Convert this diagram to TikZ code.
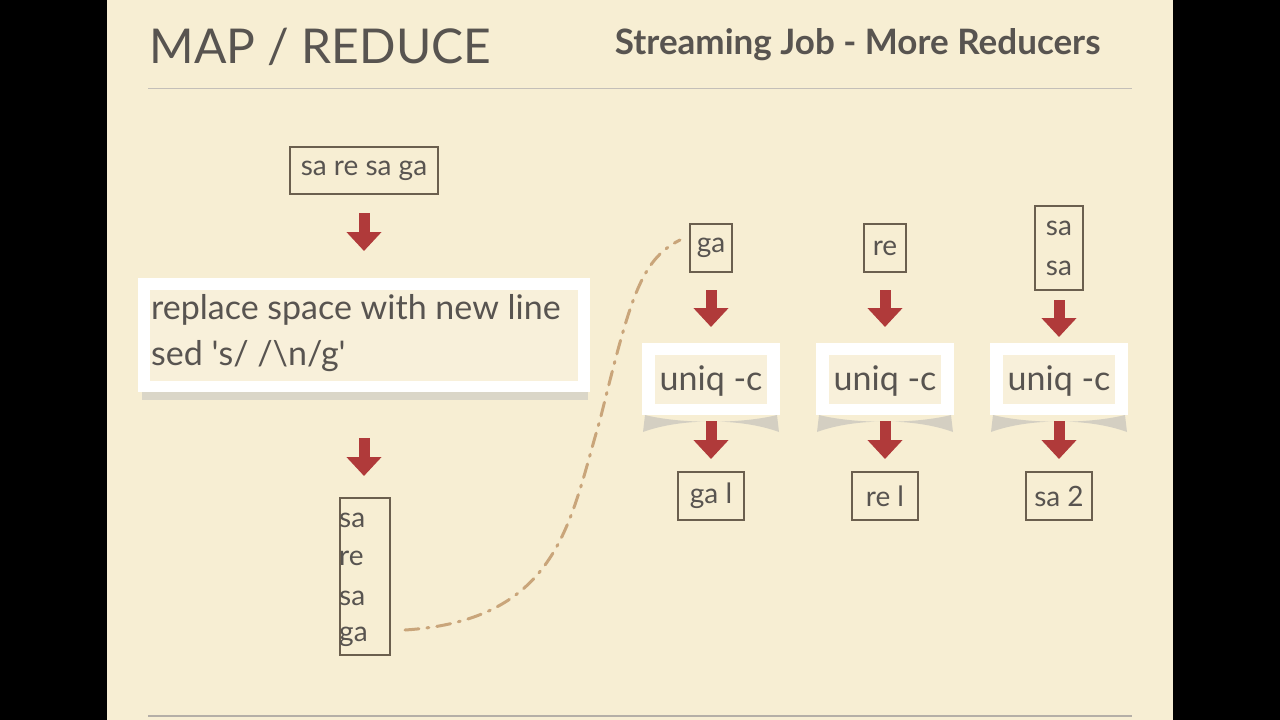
\documentclass[tikz,border=0pt]{standalone}
\usepackage{fontspec}
\setmainfont{Lato}
\usetikzlibrary{arrows.meta,positioning}
\definecolor{bg}{HTML}{F7EED3}
\definecolor{txt}{HTML}{585450}
\definecolor{bx}{HTML}{6B5F4E}
\definecolor{arr}{HTML}{B03A3A}
\definecolor{curve}{HTML}{C9A57A}
\tikzset{
 sbox/.style={draw=bx,line width=1.6pt,text=txt,font=\fontsize{28}{40}\selectfont,inner sep=1pt,align=left},
 redarr/.style={arr,line width=11pt,-{Triangle[width=34pt,length=19pt]}},
}
\begin{document}
\begin{tikzpicture}[x=1pt,y=-1pt]
\fill[black] (0,0) rectangle (1280,720);
\fill[bg] (107,0) rectangle (1173,720);
\useasboundingbox (0,0) rectangle (1280,720);
\node[anchor=west,text=txt,font=\fontsize{48}{48}\selectfont] (t1) at (146,47) {MAP / REDUCE};
\node[anchor=east,text=txt,font=\bfseries\fontsize{35}{35}\selectfont] (t2) at (1104,45) {Streaming Job - More Reducers};
\draw[bx!40,line width=0.8pt] (148,88) -- (1132,88);
\draw[bx!50,line width=1.5pt] (148,716) -- (1132,716);
% left pipeline
\node[sbox,minimum width=148,minimum height=47] (in) at (364,170.5) {sa re sa ga};
\coordinate (a1s) at (364,213); \coordinate (a1e) at (364,251);
\draw[redarr] (a1s) -- (a1e);
\fill[black!25,opacity=0.5] (142,392) rectangle (588,400);
\node[fill=white,minimum width=452,minimum height=114] (sed) at (364,335) {};
\fill[bg!85!white] (150,290) rectangle (578,381);
\node[anchor=north west,text=txt,font=\fontsize{34}{46}\selectfont,align=left,inner sep=0pt] (sedt) at (151,294) {replace space with new line\\sed \textquotesingle s/ /\textbackslash n/g\textquotesingle};
\coordinate (a2s) at (364,438); \coordinate (a2e) at (364,476);
\draw[redarr] (a2s) -- (a2e);
\node[sbox,minimum width=50,minimum height=157,anchor=north west,inner sep=0pt] (mid) at (339,497) {};
\foreach \w/\yy in {sa/520,re/558,sa/598,ga/637}
  \node[text=txt,font=\fontsize{28}{28}\selectfont,anchor=west,inner sep=0pt] at (339,\yy) {\w};
\coordinate (c0) at (405,630);
\coordinate (c1) at (680,240);
\draw[curve,line width=3pt,dash pattern=on 14pt off 8pt on 2pt off 8pt,line cap=round] (c0) .. controls (560,620) and (570,520) .. (600,420) .. controls (630,300) and (640,260) .. (c1);
% columns
\foreach \n/\x/\inp in {g/711/ga,r/885/re}{
  \node[sbox,minimum width=42,minimum height=48] (i\n) at (\x,248) {\inp};
}
\node[sbox,minimum width=48,minimum height=84,align=left,font=\fontsize{28}{40}\selectfont] (is) at (1059,248) {sa\\sa};
\foreach \n/\x/\o/\t in {g/711/ga l/290,r/885/re l/290,s/1059/sa 2/300}{
  \coordinate (p\n) at (\x,\t); \coordinate (q\n) at (\x,\t+37);
  \draw[redarr] (p\n) -- (q\n);
  \fill[black!30,opacity=0.5] (\x-66,415) .. controls (\x-30,424) and (\x+30,424) .. (\x+66,415) -- (\x+68,432) .. controls (\x+30,418) and (\x-30,418) .. (\x-68,432) -- cycle;
  \node[fill=white,minimum width=138,minimum height=72] (u\n) at (\x,379) {};
  \fill[bg!85!white] (\x-56,355) rectangle (\x+56,404);
  \node[text=txt,font=\fontsize{34}{34}\selectfont] (ut\n) at (\x,381) {uniq -c};
  \coordinate (r\n) at (\x,421); \coordinate (s\n) at (\x,459);
  \draw[redarr] (r\n) -- (s\n);
  \node[sbox,minimum width=66,minimum height=48] (o\n) at (\x,496) {\o};
}
\end{tikzpicture}
\end{document}
